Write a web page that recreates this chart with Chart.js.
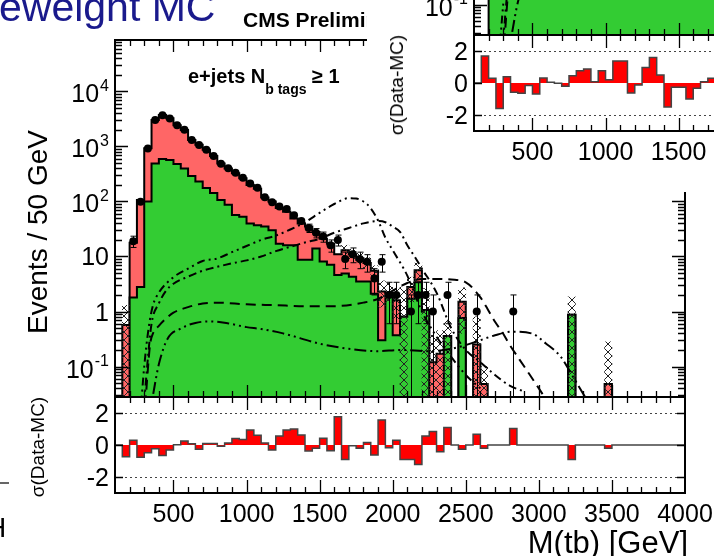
<!DOCTYPE html>
<html lang="en">
<head>
<meta charset="UTF-8">
<title>M(tb) e+jets</title>
<script src="https://cdn.jsdelivr.net/npm/chart.js"></script>
<style>
  html, body { margin: 0; padding: 0; }
  body {
    width: 714px; height: 556px; overflow: hidden; background: #fff; position: relative;
    font-family: "Liberation Sans", Arial, sans-serif; color: #000;
  }
  .fig { position: absolute; left: 0; top: 0; width: 714px; height: 556px; }
  .fig canvas { position: absolute; left: 0; top: 0; }
  .rot { position: absolute; white-space: nowrap; transform: translate(-50%, -50%) rotate(-90deg); }
  .ytitle { left: 38px; top: 232px; font-size: 28px; }
  .rtitle { left: 38px; top: 447px; font-size: 19px; }
  .xtitle { position: absolute; right: 26px; top: 527px; font-size: 31px; line-height: 31px; white-space: nowrap; }
  .cms { position: absolute; left: 243px; top: 9px; font-size: 21px; line-height: 21px; font-weight: bold; white-space: nowrap; }
  .channel { position: absolute; left: 188px; top: 66px; font-size: 20px; line-height: 20px; font-weight: bold; white-space: nowrap; }
  .channel .sub { font-size: 14px; vertical-align: -11px; }
  #inset { position: absolute; left: 367px; top: 0; width: 347px; height: 192px; overflow: hidden; background: #fff; }
  #inset .fig { left: -8px; top: -362px; }
  #slideTitle { position: absolute; left: -1px; top: -13px; font-size: 41px; line-height: 41px; color: #1a1a8c; white-space: nowrap; }
  #edgeLine { position: absolute; left: 0; top: 482px; width: 9px; height: 2px; background: #666; }
  #edgeH { position: absolute; left: -14px; top: 514px; font-size: 28px; line-height: 28px; }
</style>
</head>
<body>
  <div id="main" class="fig">
    <canvas id="mainTop" width="714" height="556"></canvas>
    <canvas id="mainRatio" width="714" height="556"></canvas>
    <div class="rot ytitle">Events / 50 GeV</div>
    <div class="rot rtitle">σ(Data-MC)</div>
    <div class="xtitle">M(tb) [GeV]</div>
    <div class="cms">CMS Preliminary</div>
    <div class="channel">e+jets N<span class="sub">b tags</span> ≥ 1</div>
  </div>

  <!-- neighbouring plot pasted over the top right corner -->
  <div id="inset">
    <div class="fig">
      <canvas id="insetTop" width="714" height="556"></canvas>
      <canvas id="insetRatio" width="714" height="556"></canvas>
      <div class="rot rtitle">σ(Data-MC)</div>
    </div>
  </div>

  <div id="slideTitle">eweight MC</div>
  <div id="edgeLine"></div>
  <div id="edgeH">H</div>

<script>
// 50 GeV bins from 100 to 4000 GeV
const binLow = 100;
const binWidth = 50;
const massMin = 100;
const massMax = 4000;

// stacked MC: green component and top of the red component (events / bin)
const greenMC = [
  0, 0, 1.8, 2.8, 100, 490, 590, 570, 480, 400,        // 100-550
  290, 230, 175, 142, 107, 87, 57, 53, 40, 37,          // 600-1050
  35, 30, 17, 16, 16, 8.7, 8.7, 14, 8.1, 7.1,           // 1100-1550
  4.6, 4.9, 4.3, 3.5, 3.5, 2.1, 0.3, 2.2, 0.37, 0.8,    // 1600-2050
  1.7, 3.4, 1.07, 0, 0, 0.36, 0, 0.76, 0, 0,            // 2100-2550
  0, 0, 0, 0, 0, 0, 0, 0, 0, 0,                         // 2600-3050
  0, 0, 0.87, 0, 0, 0, 0, 0, 0, 0,                      // 3100-3550
  0, 0, 0, 0, 0, 0, 0, 0                                // 3600-3950
];
const mcTotal = [
  0, 0.57, 17.8, 107, 930, 3040, 3730, 3250, 2440, 2000,
  1310, 1070, 870, 670, 490, 400, 325, 265, 200, 170,
  118, 100, 76, 65, 49, 40, 35, 28, 21, 17,
  11, 13, 11, 9.3, 7.6, 5.5, 2.3, 2.2, 1.6, 0.8,
  2.8, 5.6, 1.07, 0.12, 0.17, 0.36, 0, 1.5, 0, 0.25,
  0.048, 0, 0, 0, 0, 0, 0, 0, 0, 0,
  0, 0, 0.87, 0, 0, 0, 0, 0.048, 0, 0,
  0, 0, 0, 0, 0, 0, 0, 0
];

// sigma(Data-MC) per bin
const ratioMain = [
  0, -0.74, 0.29, -0.76, -0.48, -0.23, -0.65, -0.32, 0.02, 0.25,
  0.08, -0.27, 0.1, 0.1, -0.08, 0.13, 0.4, 0.34, 0.93, 0.61,
  0.13, -0.32, 0.57, 0.93, 1.0, 0.63, -0.38, -0.21, 0.42, -0.36,
  1.77, -0.9, -0.05, -0.21, 0.15, -0.63, 1.56, -0.17, 0.29, -0.9,
  -0.9, -1.22, 0.57, 0.84, -0.42, 1.1, 0, -0.27, 0, 0.67,
  -0.21, 0, 0, 0, 1.03, 0, 0, 0, 0, 0,
  0, 0, -0.9, 0, 0, 0, 0, -0.21, 0, 0,
  0, 0, 0, 0, 0, 0, 0, 0
];
// the neighbouring plot, bins 100-1700 (the rest is off the page)
const ratioNeighbour = [
  0, 1.69, 0.29, -1.6, 0.39, -0.58, -0.64, -0.16, -0.68, 0.31,
  0.04, -0.02, -0.2, 0.45, 0.76, 0.87, 0.08, 0.76, 0.2, 1.38,
  1.38, -0.62, -0.12, 0.97, 1.59, 0.5, -1.5, -0.27, -0.27, -1.0,
  -0.33, 0.08, 0.29
];

// data: bin low edge, count, error
const dataBins = [
  200, 250, 300, 350, 400, 450, 500, 550, 600, 650,
  700, 750, 800, 850, 900, 950, 1000, 1050, 1100, 1150,
  1200, 1250, 1300, 1350, 1400, 1450, 1500, 1550, 1600, 1650,
  1700, 1750, 1800, 1850, 1900, 1950, 2000,
  2100, 2150, 2200, 2250, 2350, 2550, 2800
];
const dataCounts = [
  19, 99, 915, 3027, 3690, 3230, 2440, 2010, 1313, 1060,
  873, 673, 488, 403, 333, 270, 213, 178, 119, 97,
  81, 73, 56, 44, 33, 27, 23, 16, 20, 9,
  11, 9, 8, 4, 8, 2, 2,
  1, 2, 2, 1, 2, 1, 1
];
const dataErrors = [
  4.4, 10, 30, 55, 61, 57, 49, 45, 36, 33,
  30, 26, 22, 20, 18, 16, 15, 13, 11, 10,
  9, 8.5, 7.5, 6.6, 5.7, 5.2, 4.8, 4, 4.5, 3,
  3.3, 3, 2.8, 2, 2.8, 1.4, 1.4,
  1, 1.4, 1.4, 1, 1.4, 1, 1
];

// hatched MC uncertainty where it is visible
const bandBins = [150, 1650, 1700, 1750, 1800, 1850, 1900, 1950, 2000, 2050, 2100, 2150, 2200, 2250, 2300, 2350, 2450, 2550, 2600, 3200, 3450];
const bandLow  = [0, 10, 8.5, 7.3, 6, 4.3, 1.2, 1.5, 0.7, 0, 1.5, 3.6, 0, 0, 0, 0, 0.4, 0, 0, 0, 0];
const bandHigh = [1.3, 16, 13.5, 11.5, 9.5, 6.8, 3.6, 3.3, 2.6, 2.8, 4.2, 7.6, 2.6, 0.37, 0.45, 0.7, 2.7, 0.8, 0.1, 1.85, 0.28];

// signal curves
const sigAMass  = [270, 300, 330, 360, 400, 500, 600, 700, 800, 900, 1000, 1100, 1200, 1300, 1400, 1500, 1600, 1700, 1750, 1800, 1850, 1900, 1950, 2000, 2100, 2200, 2300, 2400, 2500, 2600];
const sigAYield = [0.01, 0.1, 0.5, 1.3, 2.2, 4.2, 6.0, 8.3, 9.2, 12, 15.5, 20, 24, 31, 42, 62, 90, 115, 113, 100, 75, 45, 22, 13, 4.5, 1.0, 0.35, 0.15, 0.07, 0.04];
const sigBMass  = [290, 320, 350, 400, 450, 500, 600, 700, 800, 900, 1000, 1100, 1200, 1300, 1400, 1500, 1600, 1700, 1800, 1900, 1950, 2000, 2050, 2100, 2150, 2200, 2300, 2400, 2500, 2600, 2700, 2800, 2900];
const sigBYield = [0.01, 0.1, 0.6, 1.4, 2.4, 3.2, 4.3, 5.5, 6.5, 7.5, 8.5, 10, 12.5, 15, 18, 21, 27, 33, 40, 44, 42, 35, 28, 16, 10, 6, 2.2, 0.5, 0.2, 0.12, 0.07, 0.045, 0.035];
const sigCMass  = [300, 320, 340, 360, 400, 450, 500, 600, 700, 800, 1000, 1200, 1400, 1600, 1800, 1900, 2000, 2100, 2200, 2300, 2400, 2500, 2600, 2650, 2700, 2750, 2800, 2900, 3000, 3050];
const sigCYield = [0.01, 0.06, 0.25, 0.4, 0.55, 0.75, 0.95, 1.2, 1.4, 1.45, 1.35, 1.3, 1.25, 1.25, 1.45, 1.7, 2.4, 3.3, 3.9, 3.9, 3.8, 3.4, 1.8, 1.1, 0.65, 0.42, 0.25, 0.1, 0.04, 0.025];
const sigDMass  = [330, 360, 400, 460, 550, 650, 750, 870, 1000, 1100, 1250, 1500, 1700, 1900, 2050, 2250, 2400, 2550, 2700, 2820, 2950, 3050, 3150, 3220, 3300, 3350];
const sigDYield = [0.01, 0.03, 0.11, 0.32, 0.49, 0.62, 0.66, 0.61, 0.52, 0.48, 0.4, 0.26, 0.21, 0.19, 0.2, 0.19, 0.21, 0.27, 0.37, 0.43, 0.4, 0.26, 0.15, 0.075, 0.033, 0.02];

// axis labels
const xLabelValues = [500, 1000, 1500, 2000, 2500, 3000, 3500, 4000];
const xLabelTexts = ['500', '1000', '1500', '2000', '2500', '3000', '3500', '4000'];
const yDecades = [0.1, 1, 10, 100, 1000, 10000];
const yDecadeLabels = [['10', '-1'], ['1', ''], ['10', ''], ['10', '2'], ['10', '3'], ['10', '4']];
const ratioTickValues = [-2, 0, 2];
const ratioTickTexts = ['-2', '0', '2'];

const FONT = '"Liberation Sans", Arial, sans-serif';
const LOG_FLOOR = 1e-3; // empty bins drawn below the axis

function histPoints(values, floor) {
  const pts = values.map((v, i) => ({ x: binLow + i * binWidth, y: floor && v <= 0 ? floor : v }));
  pts.push({ x: binLow + values.length * binWidth, y: pts[pts.length - 1].y });
  return pts;
}

function makeHatch(ctx) {
  const c = document.createElement('canvas');
  c.width = 8; c.height = 8;
  const g = c.getContext('2d');
  g.strokeStyle = '#222';
  g.lineWidth = 1;
  g.beginPath();
  g.moveTo(0, 0); g.lineTo(8, 8);
  g.moveTo(8, 0); g.lineTo(0, 8);
  g.stroke();
  return ctx.createPattern(c, 'repeat');
}

// x ticks: minor every 100 GeV, major at the labels
const xTicks = [];
for (let v = 200; v < massMax; v += 100) {
  xTicks.push({ v: v, major: xLabelValues.includes(v) });
}

// ROOT style frame: inward ticks on all four sides, labels outside
const rootStyle = {
  id: 'rootStyle',
  beforeDatasetsDraw(chart, args, o) {
    if (!o.refLines) return;
    const { ctx, chartArea: a, scales: { y } } = chart;
    ctx.save();
    ctx.strokeStyle = '#444';
    ctx.lineWidth = 1;
    ctx.setLineDash([2, 3]);
    o.refLines.forEach(v => {
      const py = Math.round(y.getPixelForValue(v)) + 0.5;
      ctx.beginPath();
      ctx.moveTo(a.left, py);
      ctx.lineTo(a.right, py);
      ctx.stroke();
    });
    ctx.restore();
  },
  afterDatasetsDraw(chart, args, o) {
    if (!o.errors) return;
    const { ctx, chartArea: a, scales: { x, y } } = chart;
    const e = o.errors;
    ctx.save();
    ctx.beginPath();
    ctx.rect(a.left, a.top, a.width, a.height);
    ctx.clip();
    ctx.strokeStyle = '#000';
    ctx.lineWidth = 1;
    ctx.beginPath();
    e.bins.forEach((b, i) => {
      const px = Math.round(x.getPixelForValue(b + binWidth / 2)) + 0.5;
      const lo = e.counts[i] - e.errors[i];
      const hi = e.counts[i] + e.errors[i];
      const pLo = lo > 0 ? y.getPixelForValue(lo) : a.bottom;
      const pHi = y.getPixelForValue(hi);
      ctx.moveTo(px, pLo);
      ctx.lineTo(px, pHi);
      if (pLo - pHi > 8) {
        ctx.moveTo(px - 3, pHi); ctx.lineTo(px + 3, pHi);
        if (lo > 0) { ctx.moveTo(px - 3, pLo); ctx.lineTo(px + 3, pLo); }
      }
    });
    ctx.stroke();
    ctx.restore();
  },
  afterDraw(chart, args, o) {
    const { ctx, chartArea: a, scales: { x, y } } = chart;
    ctx.save();
    ctx.strokeStyle = '#000';
    ctx.lineWidth = 1.3;
    ctx.beginPath();
    xTicks.forEach(t => {
      const px = Math.round(x.getPixelForValue(t.v)) + 0.5;
      const len = t.major ? o.xMajor : o.xMinor;
      ctx.moveTo(px, a.bottom); ctx.lineTo(px, a.bottom - len);
      ctx.moveTo(px, a.top); ctx.lineTo(px, a.top + len);
    });
    o.yTicks.forEach(t => {
      const py = Math.round(y.getPixelForValue(t.v)) + 0.5;
      const len = t.major ? o.yMajor : o.yMinor;
      ctx.moveTo(a.left, py); ctx.lineTo(a.left + len, py);
      ctx.moveTo(a.right, py); ctx.lineTo(a.right - len, py);
    });
    ctx.stroke();
    ctx.lineWidth = 2;
    ctx.strokeRect(a.left, a.top, a.width, a.height);

    ctx.fillStyle = '#000';
    const size = o.labelSize;
    const baseFont = size + 'px ' + FONT;
    const expFont = Math.round(size * 0.65) + 'px ' + FONT;
    const right = a.left - 6;
    o.yLabels.forEach(l => {
      const base = y.getPixelForValue(l.v) + 0.36 * size + (l.exp ? 2 : 0);
      let we = 0;
      if (l.exp) { ctx.font = expFont; we = ctx.measureText(l.exp).width + 1; }
      ctx.font = baseFont;
      const wb = ctx.measureText(l.base).width;
      ctx.textAlign = 'left';
      ctx.fillText(l.base, right - we - wb, base);
      if (l.exp) { ctx.font = expFont; ctx.fillText(l.exp, right - we + 1, base - 0.45 * size); }
    });
    if (o.xLabels) {
      ctx.font = baseFont;
      ctx.textAlign = 'center';
      o.xLabels.forEach((v, i) => {
        ctx.fillText(xLabelTexts[i], x.getPixelForValue(v), a.bottom + o.xLabelOffset);
      });
    }
    ctx.restore();
  }
};

function curveSet(mass, yieldVals, dash) {
  return {
    type: 'line',
    data: mass.map((m, i) => ({ x: m, y: yieldVals[i] })),
    borderColor: '#000',
    borderWidth: 2,
    borderDash: dash,
    pointRadius: 0,
    fill: false,
    cubicInterpolationMode: 'monotone',
    order: 2
  };
}

function buildFigure(prefix, parts) {
  const topCanvas = document.getElementById(prefix + 'Top');
  const ratioCanvas = document.getElementById(prefix + 'Ratio');
  const topCtx = topCanvas.getContext('2d');

  const yTicks = [];
  [0.01, 0.1, 1, 10, 100, 1000, 10000].forEach(d => {
    for (let k = 1; k <= 9; k++) {
      const v = k * d;
      if (v >= 0.0279 && v <= 86300) yTicks.push({ v: v, major: k === 1 });
    }
  });

  const datasets = [];
  if (parts.data) {
    datasets.push({
      type: 'line',
      showLine: false,
      data: dataBins.map((b, i) => ({ x: b + binWidth / 2, y: dataCounts[i] })),
      pointRadius: 4,
      pointBackgroundColor: '#000',
      pointBorderWidth: 0,
      order: 0
    });
  }
  datasets.push(curveSet(sigAMass, sigAYield, [2, 4, 2, 4, 8, 4]));
  datasets.push(curveSet(sigBMass, sigBYield, [8, 4, 2, 4]));
  datasets.push(curveSet(sigCMass, sigCYield, [10, 6]));
  datasets.push(curveSet(sigDMass, sigDYield, [12, 4, 2, 4, 2, 4]));
  if (parts.band) {
    datasets.push({
      type: 'bar',
      data: bandBins.map((b, i) => ({
        x: b + binWidth / 2,
        y: [bandLow[i] > 0 ? bandLow[i] : LOG_FLOOR, bandHigh[i]]
      })),
      backgroundColor: makeHatch(topCtx),
      borderWidth: 0,
      barPercentage: 1,
      categoryPercentage: 1,
      grouped: false,
      order: 3
    });
  }
  datasets.push({
    type: 'line',
    data: histPoints(greenMC, LOG_FLOOR),
    stepped: 'before',
    fill: 'start',
    backgroundColor: '#33cc33',
    borderColor: '#000',
    borderWidth: 2,
    pointRadius: 0,
    order: 4
  });
  if (parts.total) {
    datasets.push({
      type: 'line',
      data: histPoints(mcTotal, LOG_FLOOR),
      stepped: 'before',
      fill: 'start',
      backgroundColor: '#ff6666',
      borderColor: '#000',
      borderWidth: 2,
      pointRadius: 0,
      order: 5
    });
  }

  new Chart(topCtx, {
    type: 'line',
    data: { datasets: datasets },
    options: {
      responsive: false,
      animation: false,
      events: [],
      layout: { padding: { left: 115, right: 29, top: 40, bottom: 159 } },
      scales: {
        x: { type: 'linear', min: massMin, max: massMax, display: false, offset: false },
        y: { type: 'logarithmic', min: 0.0279, max: 86300, display: false }
      },
      plugins: {
        legend: { display: false },
        tooltip: { enabled: false },
        rootStyle: {
          xMajor: 12, xMinor: 6, yMajor: 13, yMinor: 7,
          yTicks: yTicks,
          yLabels: yDecades.map((v, i) => ({ v: v, base: yDecadeLabels[i][0], exp: yDecadeLabels[i][1] })),
          labelSize: 25,
          errors: parts.data ? { bins: dataBins, counts: dataCounts, errors: dataErrors } : null
        }
      }
    },
    plugins: [rootStyle]
  });

  new Chart(ratioCanvas.getContext('2d'), {
    type: 'line',
    data: {
      datasets: [{
        data: histPoints(parts.ratio, 0),
        stepped: 'before',
        fill: { value: 0 },
        backgroundColor: '#ff0000',
        borderColor: '#444',
        borderWidth: 1.5,
        pointRadius: 0
      }]
    },
    options: {
      responsive: false,
      animation: false,
      events: [],
      layout: { padding: { left: 115, right: 29, top: 397, bottom: 63 } },
      scales: {
        x: { type: 'linear', min: massMin, max: massMax, display: false },
        y: { type: 'linear', min: -3, max: 3, display: false }
      },
      plugins: {
        legend: { display: false },
        tooltip: { enabled: false },
        rootStyle: {
          xMajor: 13, xMinor: 6, yMajor: 8, yMinor: 4,
          yTicks: ratioTickValues.map(v => ({ v: v, major: true })),
          yLabels: ratioTickValues.map((v, i) => ({ v: v, base: ratioTickTexts[i], exp: '' })),
          labelSize: 25,
          refLines: [-2, 2],
          xLabels: xLabelValues,
          xLabelOffset: 29
        }
      }
    },
    plugins: [rootStyle]
  });
}

buildFigure('main', { ratio: ratioMain, data: true, band: true, total: true });
buildFigure('inset', { ratio: ratioNeighbour, data: false, band: false, total: false });
</script>
</body>
</html>
